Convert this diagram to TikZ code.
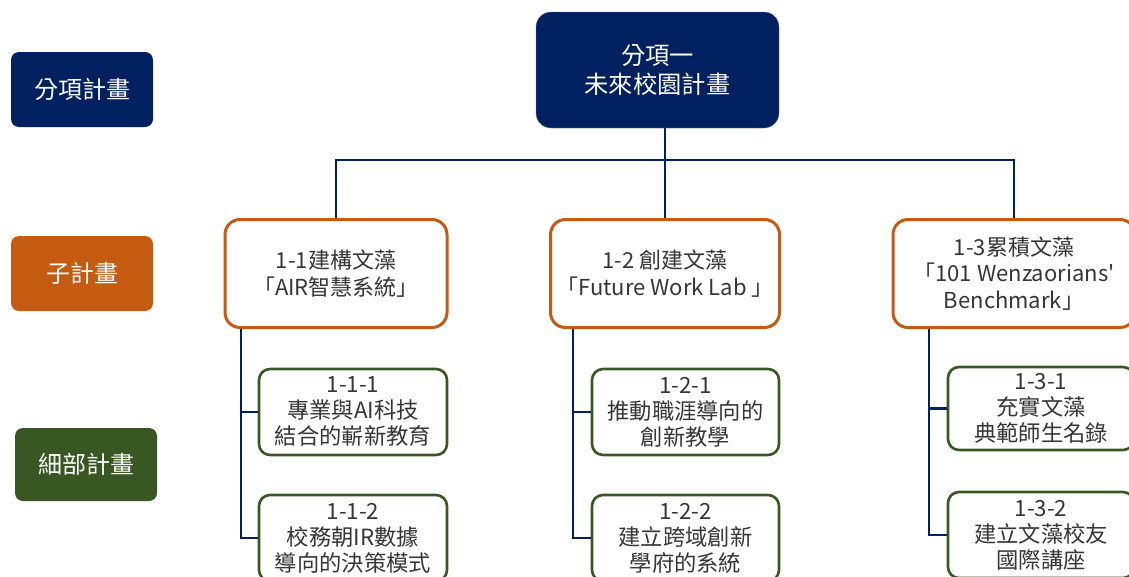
\documentclass[tikz,border=0pt]{standalone}
\usepackage{fontspec}
\setmainfont{Noto Sans CJK TC}[Ligatures=TeXOff]
\definecolor{navy}{HTML}{002060}
\definecolor{rust}{HTML}{C55A11}
\definecolor{moss}{HTML}{385723}
\definecolor{ink}{HTML}{363636}
\begin{document}
\begin{tikzpicture}[x=1pt,y=-1pt,
  legend/.style={rounded corners=8pt,minimum width=142pt,minimum height=75pt,text=white,font=\fontsize{24}{29}\selectfont},
  topbox/.style={fill=navy,draw=navy!60,rounded corners=15pt,minimum width=243pt,minimum height=116pt,text=white,align=center,font=\fontsize{24.3}{29}\selectfont},
  subbox/.style={draw=rust,line width=3pt,fill=white,rounded corners=15pt,minimum height=108pt,text=ink,align=center,font=\fontsize{22}{26.5}\selectfont},
  leafbox/.style={draw=moss,line width=2.6pt,fill=white,rounded corners=11pt,minimum width=186pt,minimum height=86pt,text=ink,align=center,font=\fontsize{22.3}{26}\selectfont},
  link/.style={draw=navy,line width=2.8pt}]

\useasboundingbox (0,0) rectangle (1129,576);
\clip (0,0) rectangle (1129,576);

% legend on the left
\node[legend,fill=navy] (lgtop) at (82,89.5) {分項計畫};
\node[legend,fill=rust] (lgsub) at (82,273.5) {子計畫};
\node[legend,fill=moss,minimum height=73pt] (lgleaf) at (86,464.5) {細部計畫};

% top
\node[topbox] (top) at (657.5,70) {分項一\\未來校園計畫};

% sub plans
\node[subbox,minimum width=222pt] (m1) at (336,273.5) {1-1建構文藻\\「AIR智慧系統」};
\node[subbox,minimum width=229pt] (m2) at (665,273.5) {1-2 創建文藻\\「Future Work Lab 」};
\node[subbox,minimum width=242pt] (m3) at (1014,273.5) {1-3累積文藻\\「101 Wenzaorians'\\Benchmark」};

% detailed plans
\node[leafbox,minimum width=188pt] (l11) at (353,412) {1-1-1\\專業與AI科技\\結合的嶄新教育};
\node[leafbox,minimum width=188pt] (l12) at (353,538) {1-1-2\\校務朝IR數據\\導向的決策模式};
\node[leafbox,minimum width=187pt] (l21) at (685.5,412) {1-2-1\\推動職涯導向的\\創新教學};
\node[leafbox,minimum width=187pt] (l22) at (685.5,538) {1-2-2\\建立跨域創新\\學府的系統};
\node[leafbox,minimum height=83pt] (l31) at (1041,408.5) {1-3-1\\充實文藻\\典範師生名錄};
\node[leafbox] (l32) at (1041,535) {1-3-2\\建立文藻校友\\國際講座};

% connectors
\coordinate (hub) at (665,160);
\draw[link] (top.south -| m2.north) -- (m2.north);
\draw[link] (m1.north) |- (hub) -| (m3.north);

\coordinate (sp1) at (241,329);
\coordinate (sp2) at (573,329);
\coordinate (sp3) at (929,329);
\draw[link] (sp1) |- (l12.west);
\draw[link] (sp1 |- l11.west) -- (l11.west);
\draw[link] (sp2) |- (l22.west);
\draw[link] (sp2 |- l21.west) -- (l21.west);
\draw[link] (sp3) |- (l32.west);
\draw[link] (sp3 |- l31.west) -- (l31.west);

\end{tikzpicture}
\end{document}
